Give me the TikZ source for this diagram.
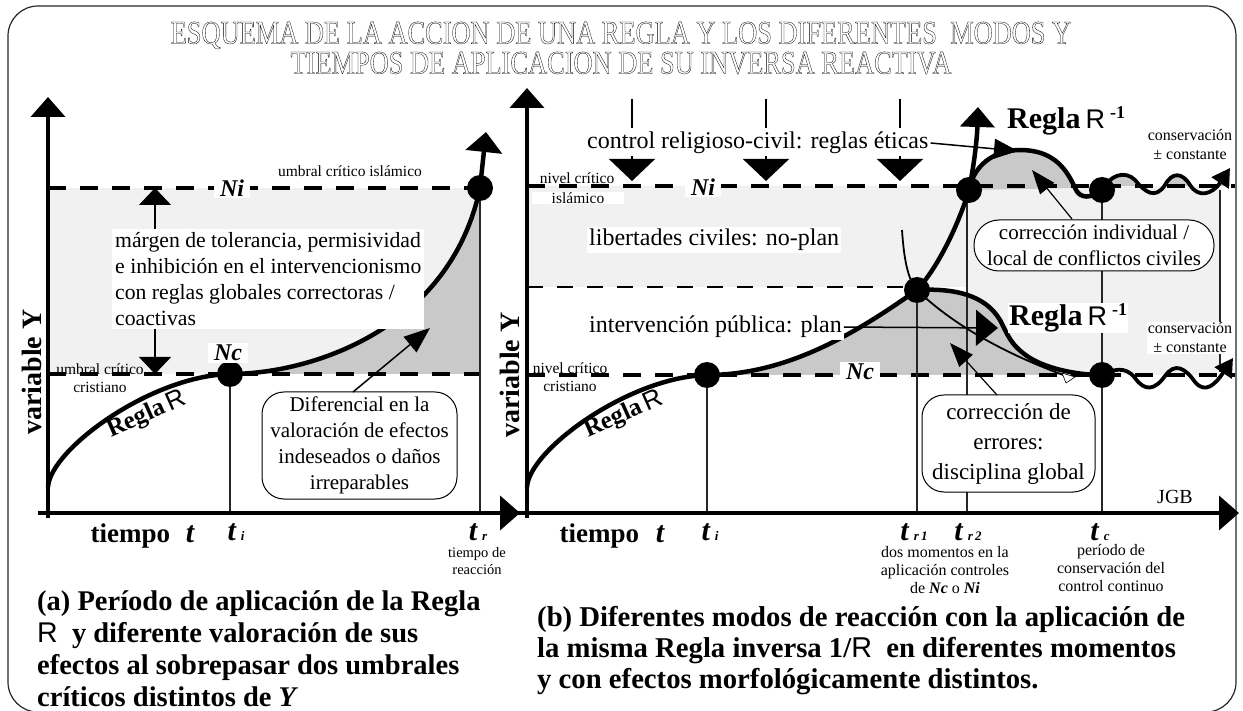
\documentclass[tikz,border=0pt]{standalone}
\usepackage{fontspec}
\setmainfont{Liberation Serif}
\newfontfamily\sansR{Liberation Sans}
\newfontfamily\titlefont[FakeStretch=0.8]{Liberation Serif}
\usetikzlibrary{arrows.meta}
\definecolor{lightband}{gray}{0.945}
\definecolor{darkfill}{gray}{0.79}
\newcommand{\fsz}[2]{\fontsize{#1}{#2}\selectfont}
\newcommand{\outlon}{\special{pdf:literal direct 1 Tr 0.3 w}}
\newcommand{\outloff}{\special{pdf:literal direct 0 Tr}}
\begin{document}
\begin{tikzpicture}[x=1pt,y=-1pt,
  curvethick/.style={line width=4.5pt, line cap=round},
  dashthick/.style={line width=4pt, dash pattern=on 18pt off 14pt},
  dashthin/.style={line width=1.3pt, dash pattern=on 16pt off 14pt},
  vthin/.style={line width=1.1pt, black!85},
  bdot/.style={circle, fill=black, minimum size=26pt, inner sep=0pt},
  lbl/.style={font=\fsz{24}{28}, inner sep=2pt},
  slbl/.style={font=\fsz{15.5}{18}, inner sep=1pt, align=center},
  rbox/.style={draw, line width=1pt, fill=white, rounded corners=22pt, align=center, font=\fsz{21}{26}, inner sep=2pt},
  axisarrow/.style={line width=4pt, -{Triangle[width=34pt,length=20pt]}},
  ptr/.style={line width=1.2pt, -{Triangle[width=18pt,length=24pt]}},
  nlab/.style={font=\fsz{24}{24}\bfseries\itshape, fill=white, inner xsep=6pt, inner ysep=2pt},
  tlab/.style={anchor=base, font=\fsz{30}{30}\bfseries\itshape},
  reglab/.style={inner sep=1pt},
]
\useasboundingbox (0,0) rectangle (1243,711);
% frame
\draw[line width=1.2pt, black!85, rounded corners=30pt] (8,6) rectangle (1236,712);

% ================= LEFT PANEL =================
\fill[lightband] (48,188) rectangle (480,374);
\fill[darkfill] (230,374) .. controls (310,374) and (450,330) .. (480,188) -- (480,374) -- cycle;
\draw[dashthick] (48,188) -- (480,188);
\draw[dashthick] (48,374) -- (480,374);
\coordinate (Lti) at (230,513);
\coordinate (Ltr) at (480,513);
\draw[vthin] (230,374) -- (Lti);
\draw[vthin] (480,188) -- (Ltr);
\coordinate (LYb) at (48,518);
\coordinate (LYt) at (48,97);
\coordinate (LXl) at (38,513);
\coordinate (LXr) at (520,513);
\draw[axisarrow] (LYb) -- (LYt);
\draw[axisarrow] (LXl) -- (LXr);
\draw[curvethick, -{Triangle[width=36pt,length=20pt]}] (48,487) .. controls (50,450) and (150,376) .. (230,374) .. controls (310,374) and (450,330) .. (480,188) -- (486,132);
\node[bdot] (Li) at (230,374) {};
\node[bdot] (Lr) at (480,188) {};

\node[nlab] (LNi) at (232,188) {Ni};
\node[nlab] (LNc) at (228,353) {Nc};
\node[slbl] (uci) at (350,171) {umbral crítico islámico};
\node[slbl] (ucc) at (100,378) {umbral crítico\\cristiano};

\node[fill=white, align=left, anchor=west, inner sep=3pt, font=\fsz{21.7}{26}] (marg) at (112,279) {márgen de tolerancia, permisividad\\e inhibición en el intervencionismo\\con reglas globales correctoras /\\coactivas};
\coordinate (mx) at (155,0);
\draw[line width=1.2pt, -{Triangle[width=32pt,length=17pt]}] (marg.north -| mx) -- (mx |- Lr);
\draw[line width=1.2pt, -{Triangle[width=32pt,length=17pt]}] (marg.south -| mx) -- (mx |- Li);

\node[rbox, minimum width=195pt, minimum height=107pt] (dif) at (359.5,445.5) {Diferencial en la\\valoración de efectos\\indeseados o daños\\irreparables};
\coordinate (difa) at (353,392);
\coordinate (difb) at (430,328);
\draw[line width=1.5pt, -{Triangle[width=20pt,length=26pt]}] (difa) -- (difb);

\node[rotate=24] (LRegla) at (147,415) {\fsz{25}{25}\bfseries Regla\,{\sansR\mdseries\fsz{26}{26}R}};
\node[rotate=90, font=\fsz{28}{28}\bfseries] (LvarY) at (32,372) {variable Y};

\node[anchor=base west, font=\fsz{27}{27}\bfseries] (Ltiempo) at (87,542) {tiempo};
\node[tlab] (Lt) at (190,542) {t};
\node[tlab] (Lti2) at (236,540) {t\,{\fsz{13}{13}i}};
\node[tlab] (Ltr2) at (478,540) {t\,{\fsz{13}{13}r}};
\node[slbl, font=\fsz{14.5}{17}] (treac) at (477,561) {tiempo de\\reacción};

\node[anchor=north west, align=left, font=\fsz{28.5}{32.3}\bfseries, inner sep=0pt] (capa) at (37,590) {(a) Período de aplicación de la Regla\\{\sansR\mdseries R}\ \ y diferente valoración de sus\\efectos al sobrepasar dos umbrales\\críticos distintos de \textit{Y}};

% ================= RIGHT PANEL =================
\fill[lightband] (527,186) -- (1220,186) -- (1220,375) -- (967,375) -- (967,287) -- (527,287) -- cycle;
\fill[darkfill] (707,375) .. controls (790,375) and (860,330) .. (917,290) .. controls (955,288) and (985,295) .. (1000,320) .. controls (1008,335) and (1010,345) .. (1030,358) .. controls (1050,370) and (1080,375) .. (1102,375) -- cycle;
\fill[darkfill] (969,190) .. controls (975,160) and (1000,150) .. (1020,150) .. controls (1050,150) and (1065,165) .. (1075,188) -- cycle;
\begin{scope}
\clip (1102,100) rectangle (1240,186);
\fill[darkfill] (1102,190) .. controls (1110,175) and (1125,170) .. (1135,180) .. controls (1145,192) and (1155,200) .. (1165,185) .. controls (1172,172) and (1182,172) .. (1190,185) .. controls (1198,198) and (1212,195) .. (1230,168) -- (1230,186) -- cycle;
\end{scope}
\draw[dashthick] (527,186) -- (1235,186);
\draw[dashthin] (527,287) -- (905,287);
\draw[dashthick] (527,375) -- (1235,375);

\coordinate (Rti) at (707,513);
\coordinate (Rr1) at (917,513);
\coordinate (Rr2) at (967,513);
\coordinate (Rtc) at (1102,513);
\draw[vthin] (707,375) -- (Rti);
\draw[vthin] (917,290) -- (Rr1);
\draw[vthin] (967,190) -- (Rr2);
\draw[vthin] (1102,190) -- (Rtc);
\draw[vthin] (1220,190) -- (1220,372);

% control arrows
\foreach \xx in {632,766,900}{
  \draw[line width=1.6pt] (\xx,99) -- (\xx,128);
  \draw[line width=1.6pt, -{Triangle[width=46pt,length=22pt]}] (\xx,150) -- (\xx,181);
}

\coordinate (RYb) at (527,518);
\coordinate (RYt) at (527,88);
\coordinate (RXl) at (517,513);
\coordinate (RXr) at (1239,513);
\draw[axisarrow] (RYb) -- (RYt);
\draw[axisarrow] (RXl) -- (RXr);

% thin curve through tr1
\draw[line width=1.8pt] (902,230) .. controls (904,260) and (908,280) .. (917,290) .. controls (950,322) and (1000,352) .. (1066,376);
\draw[line width=0.6pt, fill=white] (1062,373) -- (1075,377) -- (1066,383) -- cycle;

% main curve
\draw[curvethick, -{Triangle[width=34pt,length=20pt]}] (527,487) .. controls (529,450) and (629,377) .. (707,375) .. controls (790,375) and (860,330) .. (917,290) .. controls (940,265) and (960,220) .. (969,190) .. controls (974,165) and (977,140) .. (978,107);
% upper R^-1
\draw[curvethick] (969,190) .. controls (975,160) and (1000,150) .. (1020,150) .. controls (1050,150) and (1065,165) .. (1075,188) .. controls (1080,200) and (1092,198) .. (1102,190);
\draw[line width=3.8pt, -{Triangle[width=20pt,length=18pt]}] (1102,190) .. controls (1110,175) and (1125,170) .. (1135,180) .. controls (1145,192) and (1155,200) .. (1165,185) .. controls (1172,172) and (1182,172) .. (1190,185) .. controls (1198,198) and (1212,195) .. (1230,168);
% lower R^-1
\draw[curvethick] (917,290) .. controls (955,288) and (985,295) .. (1000,320) .. controls (1008,335) and (1010,345) .. (1030,358) .. controls (1050,370) and (1080,375) .. (1102,375);
\draw[line width=3.8pt, -{Triangle[width=20pt,length=18pt]}] (1102,375) .. controls (1112,370) and (1125,365) .. (1135,378) .. controls (1145,392) and (1155,390) .. (1165,376) .. controls (1175,362) and (1185,368) .. (1195,382) .. controls (1205,394) and (1215,385) .. (1233,358);

\node[bdot] (Ri) at (707,375) {};
\node[bdot] (Rr1d) at (917,290) {};
\node[bdot] (Rr2d) at (969,190) {};
\node[bdot] (Rtcu) at (1102,190) {};
\node[bdot] (Rtcl) at (1102,375) {};

% labels
\node[lbl, fill=white, anchor=west] (ctrl) at (585,143) {control religioso-civil: reglas éticas};
\coordinate (ctrlt) at (1018,151);
\draw[line width=1.5pt, -{Triangle[width=20pt,length=24pt]}] (ctrl.east) -- (ctrlt);
\node[lbl, fill=white, anchor=west] (lib) at (587,240) {libertades civiles: no-plan};
\node[lbl, fill=white, anchor=west] (plan) at (587,327) {intervención pública: plan};
\coordinate (plant) at (998,328);
\draw[line width=1.5pt, -{Triangle[width=36pt,length=22pt]}] (plan.east) -- (plant);

\node[nlab] (RNi) at (703,187) {Ni};
\node[nlab] (RNc) at (860,372) {Nc};
\node[slbl] (ncI) at (577,178) {nivel crítico};
\node[slbl, fill=white, minimum width=92pt] (ncI2) at (578,198) {islámico};
\node[slbl] (ncC) at (570,377) {nivel crítico\\cristiano};

\node[reglab, anchor=west] (RRu) at (1006,121) {\fsz{30}{30}\bfseries Regla\,{\sansR\mdseries\fsz{27}{27}R}\,\raisebox{10pt}{\fsz{18}{18}\bfseries -1}};
\node[reglab, anchor=west, fill=white] (RRl) at (1008,318) {\fsz{30}{30}\bfseries Regla\,{\sansR\mdseries\fsz{27}{27}R}\,\raisebox{10pt}{\fsz{18}{18}\bfseries -1}};

\node[slbl, font=\fsz{16}{19}] (consu) at (1190,145) {conservación\\± constante};
\node[slbl, font=\fsz{16}{19}, fill=white] (consl) at (1190,338) {conservación\\± constante};

\node[rbox, rounded corners=25pt, minimum width=240pt, minimum height=51pt] (ci) at (1094,245.5) {corrección individual /\\local de conflictos civiles};
\coordinate (cia) at (1072,219);
\coordinate (cib) at (1032,170);
\draw[ptr] (cia) -- (cib);

\node[rbox, font=\fsz{23}{30}, minimum width=173pt, minimum height=97pt] (ce) at (1008.5,443.5) {corrección de\\errores:\\disciplina global};
\coordinate (cea) at (997,395);
\coordinate (ceb) at (950,343);
\draw[ptr] (cea) -- (ceb);

\node[font=\fsz{20}{20}] (jgb) at (1175,497) {JGB};

\node[rotate=24] (RRegla) at (624,415) {\fsz{25}{25}\bfseries Regla\,{\sansR\mdseries\fsz{26}{26}R}};
\node[rotate=90, font=\fsz{28}{28}\bfseries] (RvarY) at (510,375) {variable Y};

\node[anchor=base west, font=\fsz{27}{27}\bfseries] (Rtiempo) at (556,542) {tiempo};
\node[tlab] (Rt) at (660,542) {t};
\node[tlab] (Rti2) at (710,540) {t\,{\fsz{13}{13}i}};
\node[tlab] (Rtr1) at (914,540) {t\,{\fsz{13}{13}r\,1}};
\node[tlab] (Rtr2) at (968,540) {t\,{\fsz{13}{13}r\,2}};
\node[tlab] (Rtc2) at (1100,540) {t\,{\fsz{13}{13}c}};

\node[slbl, font=\fsz{16}{18}] (dosm) at (945,570) {dos momentos en la\\aplicación controles\\de \textbf{\textit{Nc}} o \textbf{\textit{Ni}}};
\node[slbl, font=\fsz{16}{18}] (perc) at (1111,568) {período de\\conservación del\\control continuo};

\node[anchor=north west, align=left, font=\fsz{28.7}{31}\bfseries, inner sep=0pt] (capb) at (537,606) {(b) Diferentes modos de reacción con la aplicación de\\la misma Regla inversa 1/{\sansR\mdseries R}\ \ en diferentes momentos\\y con efectos morfológicamente distintos.};

% title (outlined)
\node[align=center, font=\titlefont\fsz{33}{30}] (title) at (621,48) {\outlon ESQUEMA DE LA ACCION DE UNA REGLA Y LOS DIFERENTES~ MODOS Y\\\outlon TIEMPOS DE APLICACION DE SU INVERSA REACTIVA\outloff};
\end{tikzpicture}
\end{document}
